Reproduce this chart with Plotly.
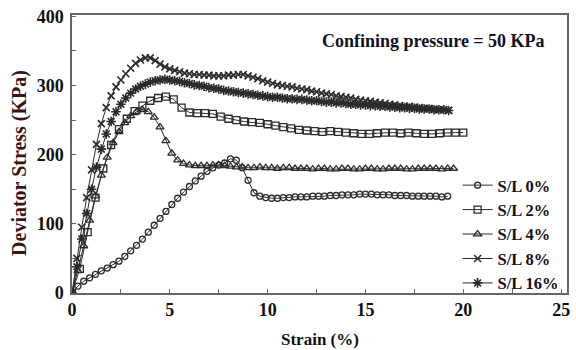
import plotly.graph_objects as go

# Strain sampling (%) for each test record
strain_03 = [0.0, 0.3, 0.6, 0.9, 1.2, 1.5, 1.8, 2.1, 2.4, 2.7,
             3.0, 3.3, 3.6, 3.9, 4.2, 4.5, 4.8, 5.1, 5.4, 5.7,
             6.0, 6.3, 6.6, 6.9, 7.2, 7.5, 7.8, 8.1, 8.4, 8.7,
             9.0, 9.3, 9.6, 9.9, 10.2, 10.5, 10.8, 11.1, 11.4, 11.7,
             12.0, 12.3, 12.6, 12.9, 13.2, 13.5, 13.8, 14.1, 14.4, 14.7,
             15.0, 15.3, 15.6, 15.9, 16.2, 16.5, 16.8, 17.1, 17.4, 17.7,
             18.0, 18.3, 18.6, 18.9, 19.2, 19.5]

strain_04 = [0.0, 0.4, 0.8, 1.2, 1.6, 2.0, 2.4, 2.8, 3.2, 3.6,
             4.0, 4.4, 4.8, 5.2, 5.6, 6.0, 6.4, 6.8, 7.2, 7.6,
             8.0, 8.4, 8.8, 9.2, 9.6, 10.0, 10.4, 10.8, 11.2, 11.6,
             12.0, 12.4, 12.8, 13.2, 13.6, 14.0, 14.4, 14.8, 15.2, 15.6,
             16.0, 16.4, 16.8, 17.2, 17.6, 18.0, 18.4, 18.8, 19.2, 19.6,
             20.0]

strain_025 = [0.0, 0.25, 0.5, 0.75, 1.0, 1.25, 1.5, 1.75,
              2.0, 2.25, 2.5, 2.75, 3.0, 3.25, 3.5, 3.75,
              4.0, 4.25, 4.5, 4.75, 5.0, 5.25, 5.5, 5.75,
              6.0, 6.25, 6.5, 6.75, 7.0, 7.25, 7.5, 7.75,
              8.0, 8.25, 8.5, 8.75, 9.0, 9.25, 9.5, 9.75,
              10.0, 10.25, 10.5, 10.75, 11.0, 11.25, 11.5, 11.75,
              12.0, 12.25, 12.5, 12.75, 13.0, 13.25, 13.5, 13.75,
              14.0, 14.25, 14.5, 14.75, 15.0, 15.25, 15.5, 15.75,
              16.0, 16.25, 16.5, 16.75, 17.0, 17.25, 17.5, 17.75,
              18.0, 18.25, 18.5, 18.75, 19.0, 19.25]

# Deviator stress (KPa)
stress_sl0 = [0, 10, 17, 22, 27, 32, 36, 41, 46, 53,
              61, 69, 78, 88, 98, 108, 118, 128, 137, 146,
              154, 162, 169, 176, 181, 185, 188, 194, 192, 181,
              163, 145, 140, 138, 137, 137, 138, 138, 139, 139,
              139, 140, 140, 140, 141, 141, 142, 142, 142, 143,
              143, 143, 142, 142, 142, 141, 141, 141, 140, 140,
              140, 140, 140, 139, 140]

stress_sl4 = [0, 32, 68, 105, 140, 170, 196, 217, 233, 246,
              256, 262, 265, 262, 254, 240, 220, 202, 192, 187,
              185, 184, 184, 184, 185, 185, 184, 183, 182, 182,
              181, 181, 182, 181, 181, 180, 181, 181, 180, 180,
              180, 179, 180, 180, 179, 179, 180, 180, 179, 179,
              180, 180, 179, 179, 180, 180, 180, 179, 179, 180,
              180, 180, 180, 179, 180, 180]

stress_sl2 = [0, 35, 88, 138, 180, 214, 237, 252, 263, 271,
              278, 282, 284, 280, 268, 261, 260, 260, 259, 255,
              252, 250, 248, 247, 246, 244, 242, 240, 238, 236,
              235, 234, 233, 234, 233, 232, 231, 230, 230, 231,
              232, 232, 231, 232, 231, 230, 230, 231, 232, 232,
              232]

stress_sl8 = [0, 50, 95, 138, 178, 215, 245, 268,
              285, 298, 308, 317, 325, 332, 337, 340,
              340, 336, 331, 327, 324, 322, 320, 318,
              317, 316, 316, 315, 315, 314, 314, 314,
              315, 315, 316, 316, 314, 312, 310, 307,
              305, 303, 301, 300, 299, 298, 296, 295,
              294, 292, 291, 289, 288, 287, 285, 284,
              283, 282, 280, 279, 278, 277, 276, 275,
              274, 273, 272, 271, 270, 270, 269, 268,
              267, 267, 266, 265, 265, 264]

stress_sl16 = [0, 38, 78, 115, 150, 182, 208, 230,
               248, 262, 273, 282, 289, 295, 299, 302,
               305, 307, 308, 309, 308, 307, 306, 304,
               303, 301, 300, 299, 297, 296, 295, 293,
               292, 291, 290, 289, 288, 287, 286, 285,
               284, 283, 283, 282, 281, 281, 280, 280,
               279, 278, 278, 277, 276, 276, 275, 275,
               274, 273, 273, 272, 272, 271, 271, 270,
               270, 269, 269, 268, 268, 267, 267, 266,
               266, 266, 265, 265, 265, 264]

series = [
    ("S/L 0%", strain_03[:len(stress_sl0)], stress_sl0, "circle-open", 6, 1.3),
    ("S/L 2%", strain_04, stress_sl2, "square-open", 7, 1.3),
    ("S/L 4%", strain_03, stress_sl4, "triangle-up-open", 7, 1.3),
    ("S/L 8%", strain_025, stress_sl8, "x-thin-open", 7, 1.6),
    ("S/L 16%", strain_025, stress_sl16, "asterisk-open", 8, 1.6),
]

SERIF = "Liberation Serif, Times New Roman, serif"

fig = go.Figure()
for name, xs, ys, sym, size, lw in series:
    fig.add_trace(go.Scatter(
        x=xs, y=ys, name=name, mode="lines+markers",
        line=dict(color="#2b2b2b", width=1),
        marker=dict(symbol=sym, size=size, color="#2b2b2b",
                    line=dict(color="#2b2b2b", width=lw)),
    ))

# Panel note and axis titles
fig.add_annotation(
    x=0.73, y=0.905, xref="paper", yref="paper",
    xanchor="center", yanchor="middle",
    text="<b>Confining pressure = 50 KPa</b>", showarrow=False,
    font=dict(family=SERIF, size=18, color="#111122"),
)
fig.add_annotation(
    x=0.5, y=-0.169, xref="paper", yref="paper",
    xanchor="center", yanchor="middle",
    text="<b>Strain (%)</b>", showarrow=False,
    font=dict(family=SERIF, size=17, color="#111111"),
)
fig.add_annotation(
    x=-0.105, y=0.468, xref="paper", yref="paper",
    xanchor="center", yanchor="middle", textangle=-90,
    text="<b>Deviator Stress (KPa)</b>", showarrow=False,
    font=dict(family=SERIF, size=20, color="#3a1515"),
)

axis_common = dict(
    showgrid=False, zeroline=False, showline=True, linecolor="#666666",
    linewidth=1.5, mirror=True, ticks="inside", ticklen=4,
    tickcolor="#666666", tickwidth=1, automargin=False,
    tickfont=dict(family=SERIF, size=18, color="#111111", weight="bold"),
)

fig.update_layout(
    width=576, height=350,
    margin=dict(l=72, r=9, t=15, b=57),
    paper_bgcolor="white", plot_bgcolor="white",
    xaxis=dict(range=[0, 25.3], dtick=5, tick0=0,
               minor=dict(dtick=2.5, ticks="inside", ticklen=4,
                          tickcolor="#666666"),
               **axis_common),
    yaxis=dict(range=[0, 402], dtick=100, tick0=0,
               minor=dict(dtick=50, ticks="inside", ticklen=4,
                          tickcolor="#666666"),
               ticklabelstandoff=3,
               **axis_common),
    legend=dict(x=0.779, y=0.45, xanchor="left", yanchor="top",
                bgcolor="rgba(0,0,0,0)", borderwidth=0,
                font=dict(family=SERIF, size=16.5, color="#111122",
                          weight="bold"),
                tracegroupgap=0, itemwidth=30),
    showlegend=True,
)

fig.write_html("out.html")
